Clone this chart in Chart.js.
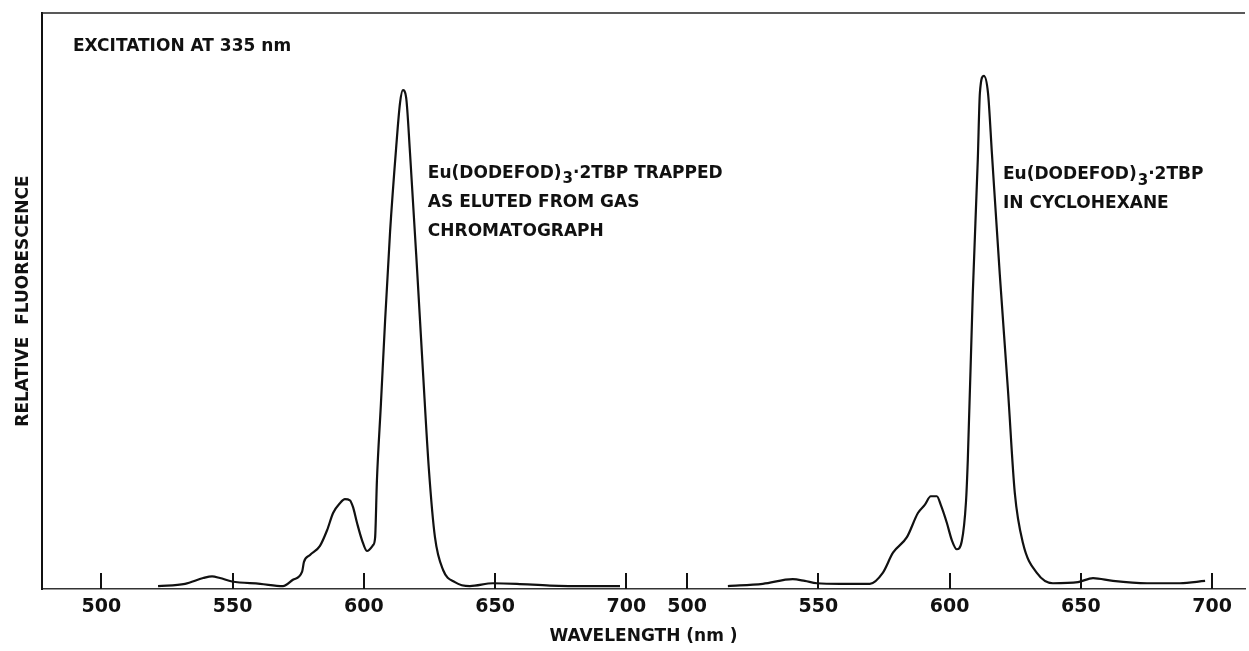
<!DOCTYPE html>
<html>
<head>
<meta charset="utf-8">
<script src="https://cdn.jsdelivr.net/npm/chart.js@4.4.1/dist/chart.umd.min.js"></script>
<style>
  html, body { margin: 0; padding: 0; background: #fff; }
  #wrap { width: 1249px; height: 651px; position: relative; }
</style>
</head>
<body>
<div id="wrap"><canvas id="c"></canvas></div>
<script>
// Wavelength ticks used under each spectrum (nm)
const tickValues = [500, 550, 600, 650, 700];
const tickLabels = ['500', '550', '600', '650', '700'];
// The cyclohexane spectrum shares the axis, shifted to the right by this many nm
const panelOffset = 223.2;

// Eu(DODEFOD)3·2TBP trapped as eluted from the gas chromatograph
const trappedNm = [521.6, 531.9, 538.8, 542.2, 545.2, 549.8, 560.5, 569.2, 573.0, 576.5,
  577.2, 579.5, 583.3, 586.0, 588.3, 590.9, 592.8, 594.7, 595.9, 597.4,
  599.3, 601.2, 603.5, 604.3, 605.0, 606.5, 608.1, 610.0, 612.3, 613.8,
  614.9, 616.1, 617.6, 620.3, 622.5, 624.8, 627.1, 630.2, 634.7, 640.4,
  649.2, 658.3, 670.9, 686.1, 697.6];
const trappedFl = [0.5, 0.9, 1.9, 2.2, 1.9, 1.3, 0.9, 0.5, 1.6, 3.0,
  4.7, 5.9, 7.5, 10.2, 13.2, 14.9, 15.6, 15.4, 14.2, 11.5,
  8.5, 6.6, 7.6, 8.9, 18.9, 32.0, 46.5, 62.0, 76.5, 84.4,
  86.6, 85.4, 75.7, 55.4, 38.0, 20.7, 9.0, 3.3, 1.2, 0.5,
  1.0, 0.9, 0.6, 0.5, 0.5];

// Eu(DODEFOD)3·2TBP in cyclohexane
const cycloNm = [515.5, 528.8, 540.2, 544.8, 549.4, 558.2, 569.6, 574.5, 578.4, 583.7,
  587.9, 590.5, 592.8, 595.1, 596.6, 598.9, 600.8, 602.7, 604.6, 606.2,
  606.9, 608.8, 610.7, 611.5, 613.0, 614.6, 616.1, 619.1, 622.2, 624.8,
  627.9, 633.2, 639.3, 648.9, 654.6, 662.2, 675.2, 687.7, 697.3];
const cycloFl = [0.5, 0.9, 1.7, 1.4, 1.0, 0.9, 0.9, 2.8, 6.3, 9.0,
  13.2, 14.6, 16.1, 16.1, 14.6, 11.5, 8.5, 6.9, 8.3, 15.1,
  22.4, 51.4, 74.5, 86.1, 89.1, 86.1, 75.5, 54.5, 34.5, 16.7,
  8.0, 2.8, 1.0, 1.2, 1.9, 1.4, 1.0, 1.0, 1.4];

const FONT = "'DejaVu Sans', 'Liberation Sans', sans-serif";

function toPoints(nm, fl, shift) {
  return nm.map((w, i) => ({ x: w + shift, y: fl[i] }));
}

// axis ticks for both spectra, in shared axis units
const axisTicks = tickValues.map((v, i) => ({ value: v, label: tickLabels[i] }))
  .concat(tickValues.map((v, i) => ({ value: v + panelOffset, label: tickLabels[i] })));

// Text notes placed in data coordinates (x in shared axis units, y in relative fluorescence)
// "_3" marks a subscript 3
const notes = [
  { x: 489.2, y: 94.1, lines: ['EXCITATION AT 335 nm'] },
  { x: 624.4, y: 72.2, lines: ['Eu(DODEFOD)_3·2TBP TRAPPED', 'AS ELUTED FROM GAS', 'CHROMATOGRAPH'] },
  { x: 620.3 + panelOffset, y: 71.9, lines: ['Eu(DODEFOD)_3·2TBP', 'IN CYCLOHEXANE'] }
];

const innerTicks = {
  id: 'innerTicks',
  afterDatasetsDraw(chart) {
    const s = chart.scales.x, ctx = chart.ctx, a = chart.chartArea;
    ctx.save();
    ctx.strokeStyle = '#111';
    ctx.lineWidth = 2;
    s.ticks.forEach(t => {
      const px = Math.round(s.getPixelForValue(t.value));
      ctx.beginPath();
      ctx.moveTo(px, a.bottom);
      ctx.lineTo(px, a.bottom - 16);
      ctx.stroke();
    });
    // top edge of the frame
    ctx.strokeStyle = '#222';
    ctx.lineWidth = 1.5;
    ctx.beginPath();
    ctx.moveTo(a.left, a.top);
    ctx.lineTo(a.right, a.top);
    ctx.stroke();
    ctx.restore();
  }
};

const textNotes = {
  id: 'textNotes',
  afterDatasetsDraw(chart) {
    const ctx = chart.ctx, sx = chart.scales.x, sy = chart.scales.y;
    const lineGap = 29;
    ctx.save();
    ctx.fillStyle = '#111';
    ctx.textBaseline = 'middle';
    ctx.textAlign = 'left';
    notes.forEach(n => {
      const x0 = sx.getPixelForValue(n.x);
      const y0 = sy.getPixelForValue(n.y);
      n.lines.forEach((line, i) => {
        const y = y0 + i * lineGap;
        let x = x0;
        line.split(/(_3)/).forEach(part => {
          if (!part) return;
          if (part === '_3') {
            ctx.font = 'bold 15px ' + FONT;
            ctx.fillText('3', x + 1, y + 6);
            x += ctx.measureText('3').width + 1;
          } else {
            ctx.font = 'bold 17px ' + FONT;
            ctx.fillText(part, x, y);
            x += ctx.measureText(part).width;
          }
        });
      });
    });
    ctx.restore();
  }
};

new Chart(document.getElementById('c'), {
  type: 'line',
  data: {
    datasets: [
      { data: toPoints(trappedNm, trappedFl, 0) },
      { data: toPoints(cycloNm, cycloFl, panelOffset) }
    ].map(d => Object.assign(d, {
      borderColor: '#111',
      borderWidth: 2.2,
      pointRadius: 0,
      fill: false,
      cubicInterpolationMode: 'monotone'
    }))
  },
  options: {
    responsive: true,
    maintainAspectRatio: false,
    animation: false,
    layout: { padding: { top: 13, right: 4, bottom: 0, left: 0 } },
    plugins: { legend: { display: false }, tooltip: { enabled: false } },
    scales: {
      x: {
        type: 'linear',
        min: 477.4,
        max: 935.7,
        afterBuildTicks: s => { s.ticks = axisTicks.map(t => ({ value: t.value })); },
        afterFit: s => { s.height = 62; },
        grid: { display: true, drawOnChartArea: false, drawTicks: false },
        border: { display: true, color: '#333', width: 1.5 },
        ticks: {
          autoSkip: false,
          maxRotation: 0,
          padding: 7,
          color: '#111',
          font: { family: FONT, size: 19, weight: 'bold' },
          callback: (v) => {
            const t = axisTicks.find(k => Math.abs(k.value - v) < 0.01);
            return t ? t.label : '';
          }
        },
        title: {
          display: true,
          text: 'WAVELENGTH (nm )',
          color: '#111',
          font: { family: FONT, size: 17, weight: 'bold' },
          padding: { top: 0, bottom: 4 }
        }
      },
      y: {
        min: 0,
        max: 100,
        afterFit: s => { s.width = 42; },
        grid: { display: false },
        border: { display: true, color: '#111', width: 2 },
        ticks: { display: false },
        title: {
          display: true,
          text: 'RELATIVE  FLUORESCENCE',
          color: '#111',
          font: { family: FONT, size: 17, weight: 'bold' },
          padding: { top: 13, bottom: 0 }
        }
      }
    }
  },
  plugins: [innerTicks, textNotes]
});
</script>
</body>
</html>
